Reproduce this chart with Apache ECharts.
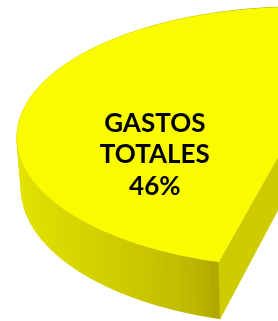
<!DOCTYPE html>
<html>
<head>
<meta charset="utf-8">
<script src="https://cdn.jsdelivr.net/npm/echarts/dist/echarts.min.js"></script>
<style>
  html, body { margin: 0; padding: 0; background: #fff; }
  #chart { width: 278px; height: 321px; }
</style>
</head>
<body>
<div id="chart"></div>
<script>
// pie data (only the GASTOS slice is inside the crop)
var categories = ['RESTO', 'GASTOS TOTALES']
var values = [54, 46]

// 3d view of the pie (camera), in pie radius units
var view = {
  cx: 300,
  cy: 118,
  focal: 1688,
  dist: 6.03,
  tilt: 27.1,
  thick: 0.207,
  startAngle: 0,
  explode: [0.25, 0],
  labelRadius: 0.57,
  labelAt: 0.28
}
var colors = {
  top: '#fafa00',
  cut: '#cccc00',
  sideDark: [174, 168, 0],
  sideLight: [228, 228, 0]
}

var total = values.reduce(function (a, b) { return a + b }, 0)

function project(X, Y, Z) {
  var t = view.tilt * Math.PI / 180
  var d = view.dist + Y * Math.cos(t) - Z * Math.sin(t)
  var up = Y * Math.sin(t) + Z * Math.cos(t)
  return [view.cx + view.focal * X / d, view.cy - view.focal * up / d]
}

// angle in degrees, clockwise from 12 o'clock
function rimPoint(angle, r, off, Z) {
  var a = angle * Math.PI / 180
  return project(off[0] + r * Math.sin(a), off[1] + r * Math.cos(a), Z)
}

function sideColor(angle) {
  var nx = Math.sin(angle * Math.PI / 180)
  var t = Math.max(0, Math.min(1, (-nx - 0.26) / 0.74))
  t = Math.pow(t, 0.6)
  var c = colors.sideDark.map(function (v, k) {
    return Math.round(v + (colors.sideLight[k] - v) * t)
  })
  return 'rgb(' + c.join(',') + ')'
}

function renderItem(params, api) {
  var i = params.dataIndex
  var before = 0
  for (var j = 0; j < i; j++) before += values[j]
  var a0 = view.startAngle + before / total * 360
  var a1 = a0 + values[i] / total * 360
  var mid = (a0 + a1) / 2 * Math.PI / 180
  var off = [view.explode[i] * Math.sin(mid), view.explode[i] * Math.cos(mid)]
  var h = -view.thick
  var children = []

  // outer wall, far pieces first
  var steps = Math.ceil((a1 - a0) / 1.5)
  var quads = []
  for (var k = 0; k < steps; k++) {
    var t0 = a0 + (a1 - a0) * k / steps
    var t1 = a0 + (a1 - a0) * (k + 1) / steps
    var col = sideColor((t0 + t1) / 2)
    quads.push({
      key: Math.cos((t0 + t1) / 2 * Math.PI / 180),
      el: {
        type: 'polygon',
        shape: { points: [rimPoint(t0, 1, off, 0), rimPoint(t1, 1, off, 0), rimPoint(t1, 1, off, h), rimPoint(t0, 1, off, h)] },
        style: { fill: col, stroke: col, lineWidth: 1 }
      }
    })
  }
  quads.sort(function (a, b) { return b.key - a.key })
  quads.forEach(function (q) { children.push(q.el) })

  // cut walls
  ;[a1, a0].forEach(function (a) {
    children.push({
      type: 'polygon',
      shape: { points: [rimPoint(0, 0, off, 0), rimPoint(a, 1, off, 0), rimPoint(a, 1, off, h), rimPoint(0, 0, off, h)] },
      style: { fill: colors.cut, stroke: colors.cut, lineWidth: 0.5 }
    })
  })

  // top face
  var pts = [rimPoint(0, 0, off, 0)]
  for (var k2 = 0; k2 <= steps * 2; k2++) {
    pts.push(rimPoint(a0 + (a1 - a0) * k2 / (steps * 2), 1, off, 0))
  }
  children.push({ type: 'polygon', shape: { points: pts }, style: { fill: colors.top } })

  // label
  var lp = rimPoint(a0 + (a1 - a0) * view.labelAt, view.labelRadius, off, 0)
  children.push({
    type: 'text',
    x: lp[0],
    y: lp[1],
    style: {
      text: categories[i].split(' ').join('\n') + '\n' + Math.round(values[i] / total * 100) + '%',
      fill: '#000',
      font: 'bold 26px Lato',
      lineHeight: 31.5,
      align: 'center',
      verticalAlign: 'middle'
    }
  })

  return { type: 'group', children: children }
}

var chart = echarts.init(document.getElementById('chart'))
chart.setOption({
  animation: false,
  series: [{
    type: 'custom',
    coordinateSystem: 'none',
    renderItem: renderItem,
    data: values.map(function (v, i) { return { name: categories[i], value: v } })
  }]
})
</script>
</body>
</html>
